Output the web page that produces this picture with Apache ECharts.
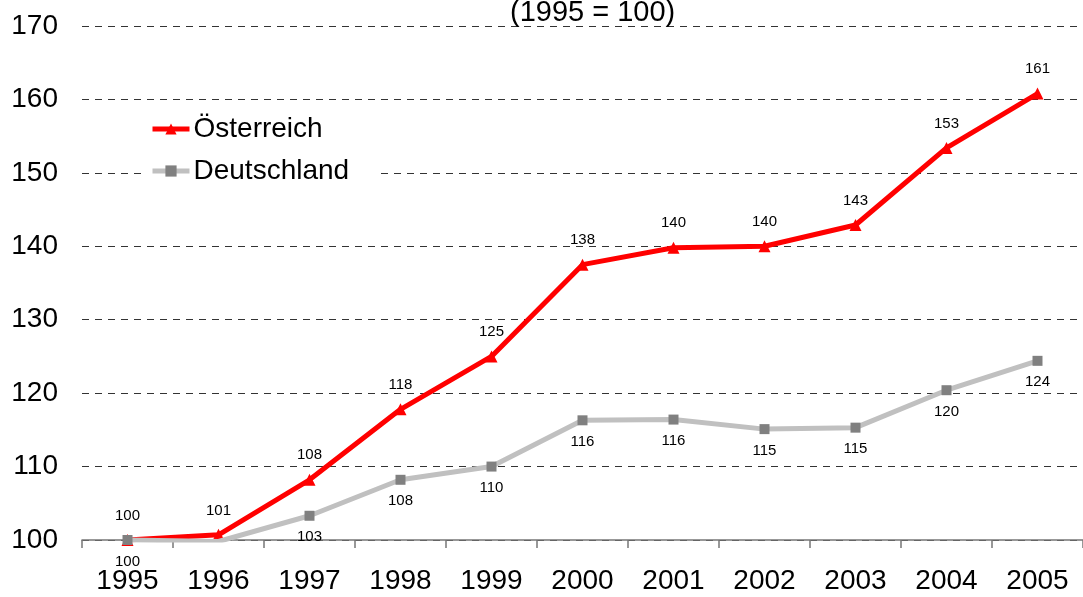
<!DOCTYPE html>
<html>
<head>
<meta charset="utf-8">
<script src="https://cdn.jsdelivr.net/npm/echarts@6/dist/echarts.min.js"></script>
<style>
  html, body { margin: 0; padding: 0; background: #fff; }
  #chart { width: 1083px; height: 597px; }
</style>
</head>
<body>
<div id="chart"></div>
<script>
const years = ['1995', '1996', '1997', '1998', '1999', '2000', '2001', '2002', '2003', '2004', '2005']
const oesterreich = [100, 100.7, 108.2, 117.8, 125.0, 137.5, 139.8, 140.0, 142.9, 153.4, 160.8]
const deutschland = [100, 99.8, 103.3, 108.2, 110.0, 116.3, 116.4, 115.1, 115.3, 120.4, 124.4]

const font = '"Liberation Sans", Arial, sans-serif'
const chart = echarts.init(document.getElementById('chart'))

chart.setOption({
  animation: false,
  title: {
    text: '(1995 = 100)',
    left: 505,
    top: -7,
    textStyle: { fontFamily: font, fontSize: 29, fontWeight: 'normal', color: '#000' }
  },
  legend: {
    orient: 'vertical',
    left: 141,
    top: 111,
    padding: [4, 26, 4, 9],
    backgroundColor: '#fff',
    itemGap: 14,
    itemWidth: 37,
    itemHeight: 14,
    lineStyle: { width: 5 },
    textStyle: { fontFamily: font, fontSize: 28, color: '#000', padding: [0, 0, 0, -1] },
    data: ['Österreich', 'Deutschland']
  },
  grid: { left: 82, top: 26, width: 1010, height: 514 },
  xAxis: {
    type: 'category',
    data: years,
    axisLine: { lineStyle: { color: '#777', width: 1.5 } },
    axisTick: { show: true, interval: 0, length: 8, lineStyle: { color: '#777', width: 1.5 } },
    axisLabel: { fontFamily: font, fontSize: 28, color: '#000', margin: 27 }
  },
  yAxis: {
    type: 'value',
    min: 100,
    max: 170,
    interval: 10,
    axisLine: { show: false },
    axisTick: { show: false },
    axisLabel: { fontFamily: font, fontSize: 28, color: '#000', margin: 24 },
    splitLine: { lineStyle: { color: '#333', type: [7, 6], width: 1 } }
  },
  series: [
    {
      name: 'Österreich',
      type: 'line',
      data: oesterreich,
      symbol: 'triangle',
      symbolSize: 12,
      lineStyle: { color: '#ff0000', width: 5 },
      itemStyle: { color: '#ff0000' },
      label: {
        show: true,
        position: 'top',
        distance: 11,
        fontFamily: font,
        fontSize: 15,
        color: '#000',
        formatter: p => Math.round(p.value)
      },
      z: 2
    },
    {
      name: 'Deutschland',
      type: 'line',
      data: deutschland,
      symbol: 'rect',
      symbolSize: 10,
      lineStyle: { color: '#c0c0c0', width: 5 },
      itemStyle: { color: '#808080' },
      label: {
        show: true,
        position: 'bottom',
        distance: 9,
        fontFamily: font,
        fontSize: 15,
        color: '#000',
        formatter: p => Math.round(p.value)
      },
      z: 3
    }
  ]
})
</script>
</body>
</html>
